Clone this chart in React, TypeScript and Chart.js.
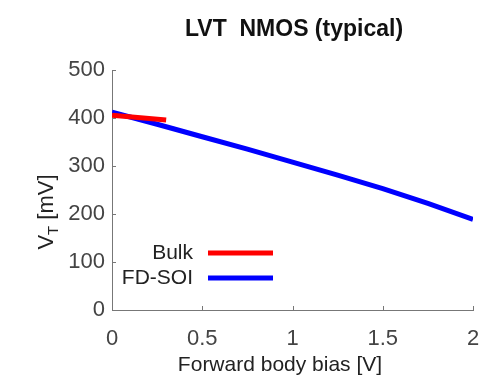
import React, { useEffect, useRef } from "react";
import { Chart, registerables } from "chart.js";

Chart.register(...registerables);

const fdsoiBias = [0, 0.25, 0.5, 0.75, 1, 1.25, 1.5, 1.75, 2];
const fdsoiVt = [412, 387, 361, 335, 308, 281, 253, 222, 189];
const bulkBias = [0, 0.3];
const bulkVt = [406, 396];
const seriesLabels = ["Bulk", "FD-SOI"];
const seriesColors = ["#ff0000", "#0000ff"];
const titleText = "LVT  NMOS (typical)";
const xTitle = "Forward body bias [V]";

const FONT = "'Liberation Sans', Arial, Helvetica, sans-serif";

const decorPlugin = {
  id: "decor",
  afterDraw(chart: any) {
    const ctx = chart.ctx as CanvasRenderingContext2D;
    const area = chart.chartArea;
    const xs = chart.scales.x;
    const ys = chart.scales.y;
    ctx.save();
    // inward ticks
    ctx.strokeStyle = "#777";
    ctx.lineWidth = 1;
    xs.ticks.forEach((t: any) => {
      const px = Math.round(xs.getPixelForValue(t.value)) + 0.5;
      ctx.beginPath();
      ctx.moveTo(px, area.bottom);
      ctx.lineTo(px, area.bottom - 4);
      ctx.stroke();
    });
    ys.ticks.forEach((t: any) => {
      const py = Math.round(ys.getPixelForValue(t.value)) + 0.5;
      ctx.beginPath();
      ctx.moveTo(area.left, py);
      ctx.lineTo(area.left + 4, py);
      ctx.stroke();
    });
    // title
    ctx.fillStyle = "#111";
    ctx.font = `bold 23px ${FONT}`;
    ctx.textAlign = "center";
    ctx.textBaseline = "alphabetic";
    ctx.fillText(titleText, 294, 36);
    // x title
    ctx.fillStyle = "#222";
    ctx.font = `21px ${FONT}`;
    ctx.fillText(xTitle, 280, 371);
    // y title with subscript
    ctx.save();
    ctx.translate(53, 212);
    ctx.rotate(-Math.PI / 2);
    ctx.textAlign = "left";
    const big = `22px ${FONT}`;
    const small = `15px ${FONT}`;
    ctx.font = big;
    const wV = ctx.measureText("V").width;
    const wRest = ctx.measureText(" [mV]").width;
    ctx.font = small;
    const wT = ctx.measureText("T").width;
    const total = wV + wT + wRest;
    let x0 = -total / 2;
    ctx.font = big;
    ctx.fillText("V", x0, 0);
    x0 += wV;
    ctx.font = small;
    ctx.fillText("T", x0, 5);
    x0 += wT;
    ctx.font = big;
    ctx.fillText(" [mV]", x0, 0);
    ctx.restore();
    // legend
    ctx.font = `21px ${FONT}`;
    ctx.textAlign = "right";
    ctx.textBaseline = "middle";
    const rows = [253, 278];
    chart.data.datasets.forEach((ds: any, i: number) => {
      const y = rows[i];
      ctx.fillStyle = "#222";
      ctx.fillText(ds.label, 193, y);
      ctx.strokeStyle = ds.borderColor;
      ctx.lineWidth = 5;
      ctx.beginPath();
      ctx.moveTo(208, y);
      ctx.lineTo(273, y);
      ctx.stroke();
    });
    ctx.restore();
  },
};

export default function App() {
  const ref = useRef<HTMLCanvasElement>(null);
  useEffect(() => {
    if (!ref.current) return;
    const chart = new Chart(ref.current, {
      type: "line",
      data: {
        datasets: [
          {
            label: seriesLabels[0],
            data: bulkBias.map((x, i) => ({ x, y: bulkVt[i] })),
            borderColor: seriesColors[0],
            borderWidth: 5,
            pointRadius: 0,
            tension: 0,
          },
          {
            label: seriesLabels[1],
            data: fdsoiBias.map((x, i) => ({ x, y: fdsoiVt[i] })),
            borderColor: seriesColors[1],
            borderWidth: 5,
            pointRadius: 0,
            tension: 0,
          },
        ],
      },
      options: {
        responsive: false,
        animation: false,
        layout: { padding: { top: 70, right: 28, left: 0, bottom: 0 } },
        plugins: { legend: { display: false }, title: { display: false }, tooltip: { enabled: false } },
        scales: {
          x: {
            type: "linear",
            min: 0,
            max: 2,
            grid: { display: false, drawTicks: false },
            border: { display: true, color: "#777", width: 1 },
            ticks: {
              stepSize: 0.5,
              color: "#444",
              font: { family: FONT, size: 22 },
              padding: 16,
              maxRotation: 0,
              callback: (v: any) => String(Number(v)),
            },
            afterFit: (s: any) => { s.height = 77; },
          },
          y: {
            type: "linear",
            min: 0,
            max: 500,
            grid: { display: false, drawTicks: false },
            border: { display: true, color: "#777", width: 1 },
            ticks: {
              stepSize: 100,
              color: "#444",
              font: { family: FONT, size: 22 },
              padding: 7,
              callback: (v: any) => String(Number(v)),
            },
            afterFit: (s: any) => { s.width = 112; },
          },
        },
      },
      plugins: [decorPlugin],
    });
    return () => chart.destroy();
  }, []);
  return (
    <div style={{ position: "absolute", left: 0, top: 0, width: 501, height: 387, background: "#fff" }}>
      <canvas ref={ref} width={501} height={387} style={{ width: 501, height: 387 }} />
    </div>
  );
}
